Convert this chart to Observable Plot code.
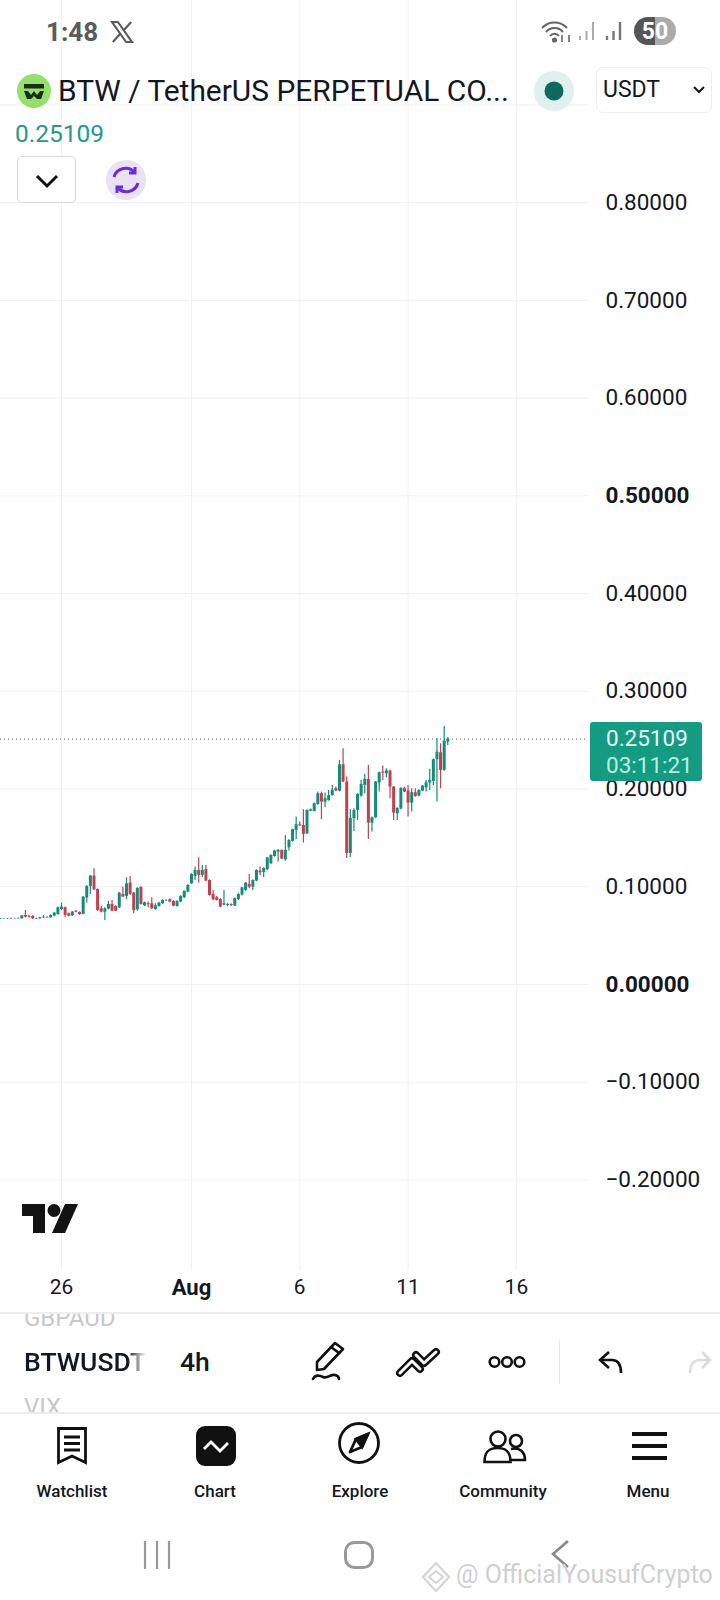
<!DOCTYPE html>
<html>
<head>
<meta charset="utf-8">
<script src="https://cdn.jsdelivr.net/npm/d3@7"></script>
<script src="https://cdn.jsdelivr.net/npm/@observablehq/plot@0.6"></script>
<style>
html,body{margin:0;padding:0;background:#fff;width:720px;height:1600px;overflow:hidden;font-family:Roboto,sans-serif;color:#131722}
#chart{position:absolute;left:0;top:0}
.a{position:absolute;white-space:nowrap;line-height:1}
svg.i{position:absolute;overflow:visible}
</style>
</head>
<body>
<div id="chart"></div>
<div id="ui"></div>
<script>
const firstCandle = "2025-07-23T04:00Z";
const lastPrice = 0.25109;
const opens = [.0668,.0670,.0672,.0670,.0674,.0672,.0672,.0706,.0699,.0696,.0670,.0672,.0689,.0682,.0682,.0699,.0716,.0767,.0785,.0723,.0702,.0750,.0737,.0716,.0884,.1003,.1109,.0972,.0774,.0740,.0771,.0819,.0798,.0785,.0921,.0901,.1037,.0935,.0764,.0993,.0805,.0826,.0826,.0767,.0798,.0826,.0857,.0867,.0850,.0798,.0843,.0887,.0945,.1030,.1106,.1167,.1116,.1177,.1064,.0921,.0887,.0870,.0812,.0809,.0819,.0802,.0870,.0915,.0962,.1024,.0996,.1058,.1160,.1146,.1174,.1235,.1310,.1354,.1372,.1276,.1399,.1464,.1576,.1634,.1627,.1542,.1774,.1771,.1842,.1952,.1866,.1883,.1934,.2003,.1979,.2248,.2071,.1340,.1696,.1781,.1928,.2037,.2098,.1651,.1706,.2061,.2173,.2156,.2184,.2020,.1747,.1795,.2003,.1979,.1856,.1962,.1928,.1979,.2013,.2061,.2078,.2300,.2371,.2190,.2480];
const closes = [.0672,.0672,.0670,.0674,.0672,.0676,.0702,.0689,.0689,.0672,.0674,.0682,.0682,.0686,.0706,.0730,.0785,.0792,.0706,.0699,.0740,.0740,.0716,.0894,.1003,.1109,.0969,.0757,.0740,.0774,.0819,.0750,.0750,.0935,.0894,.1030,.0921,.0757,.0983,.0819,.0836,.0819,.0774,.0805,.0833,.0860,.0860,.0843,.0802,.0850,.0901,.0952,.1013,.1126,.1167,.1116,.1167,.1058,.0911,.0866,.0860,.0792,.0826,.0819,.0809,.0877,.0921,.0989,.1037,.0996,.1064,.1167,.1143,.1187,.1293,.1320,.1365,.1372,.1283,.1372,.1474,.1583,.1634,.1624,.1535,.1781,.1788,.1849,.1952,.1866,.1900,.1934,.1986,.1979,.2248,.2071,.1340,.1700,.1781,.1945,.2047,.2098,.1651,.1706,.2071,.2167,.2163,.2184,.2020,.1754,.1801,.2007,.1969,.1856,.1962,.1924,.1986,.2030,.2064,.2088,.2300,.2378,.2190,.2491,lastPrice];
const highs = [.0676,.0676,.0676,.0678,.0678,.0680,.0706,.0757,.0709,.0703,.0678,.0689,.0706,.0692,.0713,.0740,.0792,.0833,.0792,.0730,.0747,.0757,.0743,.0901,.1010,.1116,.1184,.0976,.0798,.0785,.0850,.0860,.0805,.0942,.0996,.1092,.1106,.0942,.0990,.1000,.0843,.0843,.0887,.0826,.0840,.0867,.0867,.0877,.0857,.0857,.0908,.0959,.1020,.1133,.1201,.1296,.1218,.1218,.1071,.0962,.0901,.0877,.0962,.0826,.0826,.0884,.0928,.0996,.1044,.1126,.1071,.1174,.1201,.1194,.1300,.1327,.1372,.1382,.1379,.1525,.1481,.1590,.1713,.1662,.1788,.1788,.1795,.1856,.1969,.1969,.1958,.1986,.2037,.2020,.2293,.2412,.2122,.1790,.1798,.1952,.2088,.2149,.2242,.1713,.2078,.2174,.2235,.2207,.2191,.2027,.1808,.2014,.2020,.2037,.2003,.2003,.1993,.2037,.2088,.2201,.2307,.2515,.2463,.2641,.2528];
const lows = [.0664,.0666,.0666,.0668,.0668,.0670,.0668,.0682,.0680,.0665,.0665,.0668,.0675,.0678,.0678,.0692,.0709,.0757,.0689,.0692,.0696,.0733,.0709,.0713,.0833,.0921,.0962,.0750,.0730,.0655,.0764,.0743,.0743,.0778,.0887,.0867,.0914,.0723,.0750,.0812,.0798,.0785,.0767,.0760,.0792,.0819,.0850,.0836,.0795,.0792,.0836,.0880,.0938,.1023,.1064,.1037,.1092,.1051,.0904,.0860,.0853,.0785,.0805,.0795,.0798,.0795,.0860,.0905,.0955,.0979,.0962,.1051,.1116,.1092,.1167,.1228,.1303,.1252,.1276,.1262,.1365,.1457,.1481,.1617,.1447,.1535,.1767,.1764,.1835,.1685,.1808,.1876,.1927,.1972,.1972,.2064,.1290,.1300,.1566,.1679,.1915,.1952,.1484,.1559,.1699,.1969,.2088,.2115,.1900,.1679,.1679,.1788,.1962,.1713,.1764,.1917,.1921,.1972,.1969,.1986,.2037,.1866,.2003,.2183,.2446];

const priceTicks = [0.8,0.7,0.6,0.4,0.3,0.2,0.1,-0.1,-0.2];
const boldPriceTicks = [0.5,0];
const gridPrices = [0.9,0.8,0.7,0.6,0.5,0.4,0.3,0.2,0.1,0,-0.1,-0.2];
const dayTicks = ["2025-07-26","2025-08-06","2025-08-11","2025-08-16"].map(d=>new Date(d+"T00:00Z"));
const monthTicks = [new Date("2025-08-01T00:00Z")];

const t0 = +new Date(firstCandle);
const candles = opens.map((o,i)=>({t:new Date(t0+i*4*3600e3),o,c:closes[i],h:highs[i],l:lows[i]}));
const up = candles.filter(d=>d.c>=d.o), down = candles.filter(d=>d.c<d.o);
const GREEN="#158c77", RED="#c0404d", GRID="#f1f1f3", INK="#131722";
const fmt = d => (d<0?"\u2212":"")+Math.abs(d).toFixed(5);

const plot = Plot.plot({
  width:720, height:1313, marginLeft:0, marginRight:132, marginTop:0, marginBottom:43,
  style:{fontFamily:"Roboto, sans-serif",background:"transparent",color:INK,fontSize:"22.5px"},
  x:{type:"utc",domain:[new Date("2025-07-23T04:24Z"),new Date("2025-08-19T07:55Z")],range:[0,588]},
  y:{domain:[-0.2927,0.9506],range:[1270,55]},
  marks:[
    Plot.gridY(gridPrices,{stroke:GRID,strokeOpacity:1}),
    Plot.gridX([...dayTicks,...monthTicks],{stroke:GRID,strokeOpacity:1}),
    Plot.axisY(priceTicks,{anchor:"right",tickSize:0,tickPadding:17,tickFormat:fmt,fontSize:22.5,fill:INK,label:null}),
    Plot.axisY(boldPriceTicks,{anchor:"right",tickSize:0,tickPadding:17,tickFormat:fmt,fontSize:22.5,fontWeight:700,fill:INK,label:null}),
    Plot.axisX(dayTicks,{anchor:"bottom",tickSize:0,tickPadding:9,tickFormat:d3.utcFormat("%-d"),fontSize:21,fill:INK,label:null}),
    Plot.axisX(monthTicks,{anchor:"bottom",tickSize:0,tickPadding:9,tickFormat:d3.utcFormat("%b"),fontSize:22,fontWeight:700,fill:INK,label:null}),
    Plot.ruleY([lastPrice],{stroke:"#555",strokeWidth:1,strokeDasharray:"1 3"}),
    Plot.ruleX(up,{x:"t",y1:"l",y2:"h",stroke:GREEN,strokeWidth:1.2}),
    Plot.ruleX(down,{x:"t",y1:"l",y2:"h",stroke:RED,strokeWidth:1.2}),
    Plot.ruleX(up,{x:"t",y1:"o",y2:"c",stroke:GREEN,strokeWidth:3}),
    Plot.ruleX(down,{x:"t",y1:"o",y2:"c",stroke:RED,strokeWidth:3})
  ]
});
document.getElementById("chart").append(plot);

const ui = `
<div class="a" style="left:46px;top:19px;font-size:26px;font-weight:700;color:#5a5a5a">1:48</div>
<svg class="i" style="left:111px;top:21px" width="22" height="22" viewBox="0 0 24 24"><path d="M1 1h6.5L23 23h-6.5z" fill="none" stroke="#5a5a5a" stroke-width="2.2"/><path d="M22 1 13.5 10.5M10.5 13.5 2 23" stroke="#5a5a5a" stroke-width="2.4"/></svg>
<svg class="i" style="left:541px;top:20px" width="30" height="26" viewBox="0 0 30 26" fill="none" stroke="#666" stroke-width="2"><path d="M1 8a17 17 0 0 1 25 0M5 12a11 11 0 0 1 17 0M9 16a5.500 5.500 0 0 1 9 0"/><circle cx="13.500" cy="20" r="1.600" fill="#666"/><path d="M21 15v7M28 22v-7" stroke-width="1.600"/></svg>
<svg class="i" style="left:578px;top:21px" width="20" height="22" stroke="#aaa" stroke-width="2"><path d="M2 19v-4M8.500 19v-9M15 19V1"/></svg>
<svg class="i" style="left:605px;top:21px" width="20" height="22" stroke="#777" stroke-width="2.400"><path d="M2 19v-4M8.500 19v-9M15 19V1"/></svg>
<div class="a" style="left:634px;top:17px;width:42px;height:28px;border-radius:14px;background:linear-gradient(90deg,#555 50%,#aaa 50%);color:#fff;font-weight:700;font-size:23px;line-height:29px;text-align:center">50</div>

<svg class="i" style="left:17px;top:74px" width="34" height="34" viewBox="0 0 34 34"><circle cx="17" cy="17" r="17" fill="#93e06a"/><path d="M7 10h20v4.500H7z" fill="#1f2a1a"/><path d="M7 17h4l3 4 3-4 3 4 3-4h4l-3 8h-4l-3-3-3 3h-4z" fill="#1f2a1a"/></svg>
<div class="a" id="title" style="left:58px;top:76px;font-size:29.900px">BTW / TetherUS PERPETUAL CO...</div>
<svg class="i" style="left:534px;top:71px" width="40" height="40"><circle cx="20" cy="20" r="20" fill="#dff1ef"/><circle cx="20" cy="20" r="9.500" fill="#0b6b5a"/></svg>
<div class="a" style="left:596px;top:67px;width:116px;height:46px;border:1px solid #eee;border-radius:7px;box-sizing:border-box"></div>
<div class="a" style="left:603px;top:78px;font-size:23px">USDT</div>
<svg class="i" style="left:693px;top:86px" width="12" height="8" fill="none" stroke="#131722" stroke-width="2"><path d="M1 1l5 5 5-5"/></svg>
<div class="a" style="left:15px;top:122px;font-size:24.500px;color:#26998a">0.25109</div>
<div class="a" style="left:17px;top:156px;width:59px;height:47px;border:1px solid #d9d9d9;border-radius:5px;box-sizing:border-box;background:#fff"></div>
<svg class="i" style="left:35px;top:174px" width="24" height="14" fill="none" stroke="#111" stroke-width="3"><path d="M2 2l10 10L22 2"/></svg>
<svg class="i" style="left:106px;top:160px" width="40" height="40"><circle cx="20" cy="20" r="20" fill="#e8e2f4"/><g fill="none" stroke="#6a2be0" stroke-width="3"><path d="M8 17a12 12 0 0 1 21-4"/><path d="M32 23a12 12 0 0 1-21 4"/><path d="M29 7v6h-6M11 33v-6h6"/></g></svg>

<svg class="i" style="left:22px;top:1204px" width="58" height="29" viewBox="0 0 58 29" fill="#131313"><path d="M0 0h23v29H11V12H0z"/><circle cx="32" cy="6.500" r="6.500"/><path d="M43 0h13L43 29H30z"/></svg>

<div class="a" style="left:590px;top:722px;width:112px;height:59px;background:#149c82;border-radius:3px;box-sizing:border-box;padding-left:16px">
  <div style="font-size:22.500px;color:#e9fbf6;margin-top:5px">0.25109</div>
  <div style="font-size:22.500px;color:#bdeee0;margin-top:4px">03:11:21</div>
</div>

<div class="a" style="left:0;top:1312px;width:720px;height:102px;background:#fff;border-top:2px solid #eee;border-bottom:2px solid #eee;box-sizing:border-box;overflow:hidden">
  <div class="a" style="left:24px;top:-8px;font-size:24px;color:#c8c8c8">GBPAUD</div>
  <div class="a" style="left:24px;top:35px;font-size:26.500px;font-weight:500;-webkit-mask-image:linear-gradient(90deg,#000 85%,#fff0 100%)">BTWUSDT</div>
  <div class="a" style="left:180px;top:35px;font-size:26.500px;font-weight:500">4h</div>
  <div class="a" style="left:24px;top:81px;font-size:24px;color:#c8c8c8">VIX</div>
  <div class="a" style="left:559px;top:26px;width:1px;height:44px;background:#e8e8e8"></div>
</div>
<svg class="i" style="left:311px;top:1341px" width="38" height="44" fill="none" stroke="#111" stroke-width="2.600" stroke-linejoin="round" stroke-linecap="round"><path d="M6 29V21L24 2l8 6-19 20z"/><path d="M20 6l8 6"/><path d="M2 38c2-4 6-4 10-2s8-3 12-2 4 4 4 4"/></svg>
<svg class="i" style="left:395px;top:1348px" width="46" height="30" fill="none" stroke-linejoin="round" stroke-linecap="round"><path d="M5 25 17 13l8 8" stroke="#111" stroke-width="8"/><path d="M5 25 17 13l8 8" stroke="#fff" stroke-width="3"/><path d="M21 7l8 8L41 4" stroke="#111" stroke-width="8"/><path d="M21 7l8 8L41 4" stroke="#fff" stroke-width="3"/></svg>
<svg class="i" style="left:488px;top:1354px" width="38" height="16" fill="none" stroke="#111" stroke-width="2.600"><circle cx="6.500" cy="8" r="4.800"/><circle cx="19" cy="8" r="4.800"/><circle cx="31.500" cy="8" r="4.800"/></svg>
<svg class="i" style="left:598px;top:1351px" width="28" height="24" fill="none" stroke="#111" stroke-width="2.600"><path d="M11 1 2 9l9 8"/><path d="M2 9h12c6 0 9 4 9 13"/></svg>
<svg class="i" style="left:688px;top:1351px" width="24" height="24" fill="none" stroke="#dcdcdc" stroke-width="2.600"><path d="M14 1l8 8-8 8"/><path d="M22 9H12C6 9 2 13 2 22"/></svg>

<svg class="i" style="left:57px;top:1427px" width="30" height="38" fill="none" stroke="#111" stroke-width="2.800"><path d="M1.500 1.500h27v34L15 29 1.500 35.500z"/><path d="M7 10h16M7 16.500h16M7 23h16"/></svg>
<svg class="i" style="left:196px;top:1426px" width="40" height="40"><rect width="40" height="40" rx="9" fill="#111"/><path d="M8 23l7-7 9 9 8-8" fill="none" stroke="#fff" stroke-width="2.800"/></svg>
<svg class="i" style="left:338px;top:1422px" width="42" height="42" fill="none" stroke="#111" stroke-width="2.800"><circle cx="21" cy="21" r="19.500"/><path d="M30 12 24 25 12 30l6-13z" stroke-linejoin="round"/><path d="M30 12 18 17l6 8z" fill="#111"/></svg>
<svg class="i" style="left:483px;top:1430px" width="44" height="34" fill="none" stroke="#111" stroke-width="2.600"><circle cx="15" cy="9" r="7.500"/><circle cx="33" cy="11" r="6"/><path d="M1.500 32c0-12 6-14 13-14s13 2 13 14z"/><path d="M28 19c9-2 14 3 14 11H28"/></svg>
<svg class="i" style="left:632px;top:1432px" width="35" height="28" stroke="#111" stroke-width="4"><path d="M0 2h35M0 14h35M0 26h35"/></svg>
${[["Watchlist",72],["Chart",215],["Explore",360],["Community",503],["Menu",648]].map(([t,x])=>`<div class="a" style="left:${x-60}px;width:120px;top:1483px;text-align:center;font-size:17px;font-weight:500">${t}</div>`).join("")}

<svg class="i" style="left:143px;top:1541px" width="30" height="28" stroke="#999" stroke-width="2.200"><path d="M2 0v28M14 0v28M26 0v28"/></svg>
<svg class="i" style="left:344px;top:1541px" width="30" height="28" fill="none" stroke="#999" stroke-width="3"><rect x="1.500" y="1.500" width="27" height="25" rx="9"/></svg>
<svg class="i" style="left:551px;top:1540px" width="18" height="28" fill="none" stroke="#888" stroke-width="2.600"><path d="M17 1 2 14l15 13"/></svg>
<svg class="i" style="left:422px;top:1562px" width="28" height="30" fill="none" stroke="#d4d4d4" stroke-width="2"><path d="M14 1 27 15 14 29 1 15z"/><path d="M7 15l7-6 7 6-7 6z"/></svg>
<div class="a" style="left:456px;top:1562px;font-size:25px;color:#cfcfcf">@ OfficialYousufCrypto</div>
`;
document.getElementById("ui").innerHTML = ui;
</script>
</body>
</html>
